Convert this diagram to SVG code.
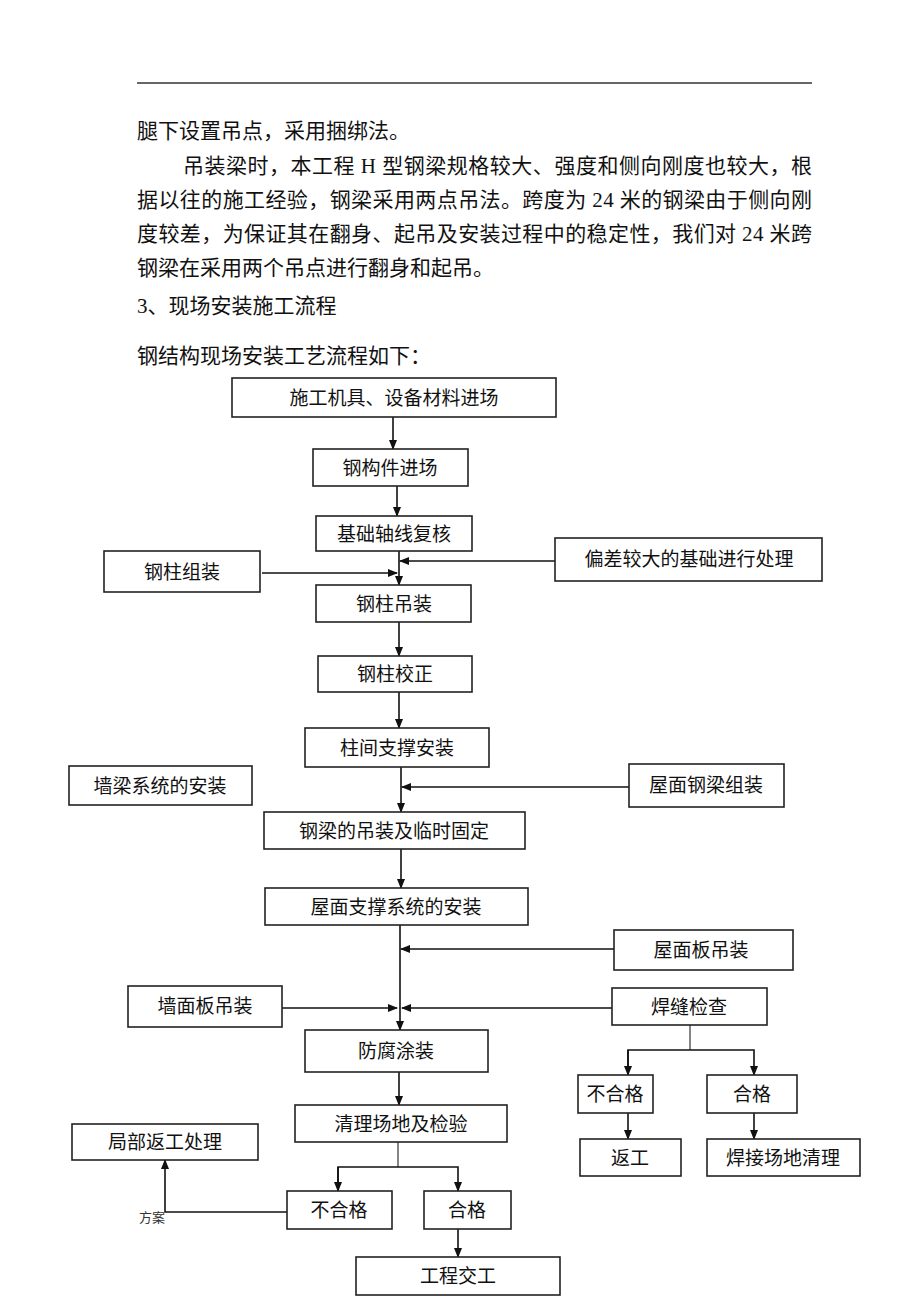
<svg xmlns="http://www.w3.org/2000/svg" width="920" height="1302" viewBox="0 0 920 1302">
<style>
.body{font-family:"Liberation Serif","Noto Sans CJK SC",serif;font-size:21px;fill:#111}
.lbl{font-family:"Liberation Serif","Noto Sans CJK SC",serif;font-size:19px;fill:#111;text-anchor:middle;dominant-baseline:central}
.sm{font-family:"Liberation Serif","Noto Sans CJK SC",serif;font-size:13px;fill:#333}
.box{fill:#fff;stroke:#222;stroke-width:1.6}
.ln{fill:none;stroke:#111;stroke-width:1.6}
.ln2{fill:none;stroke:#444;stroke-width:1.3}
</style>
<defs>
<marker id="ah" markerWidth="10" markerHeight="8" refX="9" refY="4" orient="auto" markerUnits="userSpaceOnUse">
<path d="M0,0 L10,4 L0,8 Z" fill="#111"/>
</marker>
</defs>
<rect width="920" height="1302" fill="#fff"/>
<line x1="137" y1="83" x2="812" y2="83" stroke="#333" stroke-width="1.3"/>
<g id="paragraph">
<text class="body" x="137" y="138">腿下设置吊点，采用捆绑法。</text>
<text class="body" x="183" y="173" textLength="629" lengthAdjust="spacing">吊装梁时，本工程 H 型钢梁规格较大、强度和侧向刚度也较大，根</text>
<text class="body" x="137" y="207" textLength="675" lengthAdjust="spacing">据以往的施工经验，钢梁采用两点吊法。跨度为 24 米的钢梁由于侧向刚</text>
<text class="body" x="137" y="241" textLength="675" lengthAdjust="spacing">度较差，为保证其在翻身、起吊及安装过程中的稳定性，我们对 24 米跨</text>
<text class="body" x="137" y="275">钢梁在采用两个吊点进行翻身和起吊。</text>
<text class="body" x="137" y="313">3、现场安装施工流程</text>
<text class="body" x="137" y="363">钢结构现场安装工艺流程如下：</text>
</g>
<g id="connectors">
<line class="ln" x1="393" y1="417" x2="393" y2="449" marker-end="url(#ah)"/>
<line class="ln" x1="397" y1="486" x2="397" y2="516" marker-end="url(#ah)"/>
<line class="ln" x1="399" y1="551" x2="399" y2="585" marker-end="url(#ah)"/>
<line class="ln" x1="555" y1="561" x2="400" y2="561" marker-end="url(#ah)"/>
<line class="ln" x1="262" y1="573" x2="397" y2="573" marker-end="url(#ah)"/>
<line class="ln" x1="399" y1="622" x2="399" y2="656" marker-end="url(#ah)"/>
<line class="ln" x1="399" y1="692" x2="399" y2="728" marker-end="url(#ah)"/>
<line class="ln" x1="401" y1="767" x2="401" y2="812" marker-end="url(#ah)"/>
<line class="ln" x1="629" y1="787" x2="402" y2="787" marker-end="url(#ah)"/>
<line class="ln" x1="401" y1="849" x2="401" y2="888" marker-end="url(#ah)"/>
<line class="ln" x1="400" y1="925" x2="400" y2="1030" marker-end="url(#ah)"/>
<line class="ln" x1="614" y1="949" x2="401" y2="949" marker-end="url(#ah)"/>
<line class="ln" x1="282" y1="1008" x2="397" y2="1008" marker-end="url(#ah)"/>
<line class="ln" x1="612" y1="1008" x2="402" y2="1008" marker-end="url(#ah)"/>
<line class="ln2" x1="690" y1="1025" x2="690" y2="1050"/>
<polyline class="ln" points="628,1075 628,1050 754,1050 754,1075" marker-end="url(#ah)"/>
<line class="ln" x1="628" y1="1050" x2="628" y2="1075" marker-end="url(#ah)"/>
<line class="ln" x1="628" y1="1113" x2="628" y2="1139" marker-end="url(#ah)"/>
<line class="ln" x1="754" y1="1113" x2="754" y2="1139" marker-end="url(#ah)"/>
<line class="ln" x1="399" y1="1072" x2="399" y2="1105" marker-end="url(#ah)"/>
<line class="ln2" x1="398" y1="1142" x2="398" y2="1167"/>
<polyline class="ln" points="338,1191 338,1167 458,1167 458,1191" marker-end="url(#ah)"/>
<line class="ln" x1="338" y1="1167" x2="338" y2="1191" marker-end="url(#ah)"/>
<line class="ln" x1="458" y1="1229" x2="458" y2="1257" marker-end="url(#ah)"/>
<polyline class="ln" points="287,1212 165,1212 165,1160" marker-end="url(#ah)"/>
</g>
<text class="sm" x="139" y="1222">方案</text>
<g id="n1"><rect class="box" x="232" y="378" width="324" height="39"/><text class="lbl" x="394" y="398">施工机具、设备材料进场</text></g>
<g id="n2"><rect class="box" x="313" y="449" width="155" height="37"/><text class="lbl" x="390" y="468">钢构件进场</text></g>
<g id="n3"><rect class="box" x="316" y="516" width="156" height="35"/><text class="lbl" x="394" y="534">基础轴线复核</text></g>
<g id="n4"><rect class="box" x="555" y="538" width="267" height="43"/><text class="lbl" x="689" y="559">偏差较大的基础进行处理</text></g>
<g id="n5"><rect class="box" x="104" y="551" width="156" height="41"/><text class="lbl" x="182" y="572">钢柱组装</text></g>
<g id="n6"><rect class="box" x="316" y="585" width="155" height="37"/><text class="lbl" x="394" y="604">钢柱吊装</text></g>
<g id="n7"><rect class="box" x="318" y="656" width="154" height="36"/><text class="lbl" x="395" y="674">钢柱校正</text></g>
<g id="n8"><rect class="box" x="305" y="728" width="184" height="39"/><text class="lbl" x="397" y="748">柱间支撑安装</text></g>
<g id="n9"><rect class="box" x="69" y="766" width="183" height="39"/><text class="lbl" x="160" y="786">墙梁系统的安装</text></g>
<g id="n10"><rect class="box" x="629" y="764" width="155" height="43"/><text class="lbl" x="706" y="785">屋面钢梁组装</text></g>
<g id="n11"><rect class="box" x="264" y="812" width="261" height="37"/><text class="lbl" x="394" y="831">钢梁的吊装及临时固定</text></g>
<g id="n12"><rect class="box" x="265" y="888" width="263" height="37"/><text class="lbl" x="396" y="907">屋面支撑系统的安装</text></g>
<g id="n13"><rect class="box" x="614" y="930" width="179" height="40"/><text class="lbl" x="701" y="950">屋面板吊装</text></g>
<g id="n14"><rect class="box" x="128" y="986" width="154" height="41"/><text class="lbl" x="205" y="1006">墙面板吊装</text></g>
<g id="n15"><rect class="box" x="612" y="988" width="155" height="37"/><text class="lbl" x="689" y="1007">焊缝检查</text></g>
<g id="n16"><rect class="box" x="305" y="1030" width="183" height="42"/><text class="lbl" x="396" y="1051">防腐涂装</text></g>
<g id="n17"><rect class="box" x="578" y="1075" width="75" height="38"/><text class="lbl" x="615" y="1094">不合格</text></g>
<g id="n18"><rect class="box" x="707" y="1075" width="90" height="38"/><text class="lbl" x="752" y="1094">合格</text></g>
<g id="n19"><rect class="box" x="580" y="1139" width="101" height="37"/><text class="lbl" x="630" y="1158">返工</text></g>
<g id="n20"><rect class="box" x="707" y="1139" width="153" height="37"/><text class="lbl" x="783" y="1158">焊接场地清理</text></g>
<g id="n21"><rect class="box" x="295" y="1105" width="212" height="37"/><text class="lbl" x="401" y="1124">清理场地及检验</text></g>
<g id="n22"><rect class="box" x="72" y="1124" width="186" height="36"/><text class="lbl" x="165" y="1142">局部返工处理</text></g>
<g id="n23"><rect class="box" x="287" y="1191" width="105" height="38"/><text class="lbl" x="339" y="1210">不合格</text></g>
<g id="n24"><rect class="box" x="424" y="1191" width="87" height="38"/><text class="lbl" x="467" y="1210">合格</text></g>
<g id="n25"><rect class="box" x="356" y="1257" width="204" height="38"/><text class="lbl" x="458" y="1276">工程交工</text></g>
</svg>
